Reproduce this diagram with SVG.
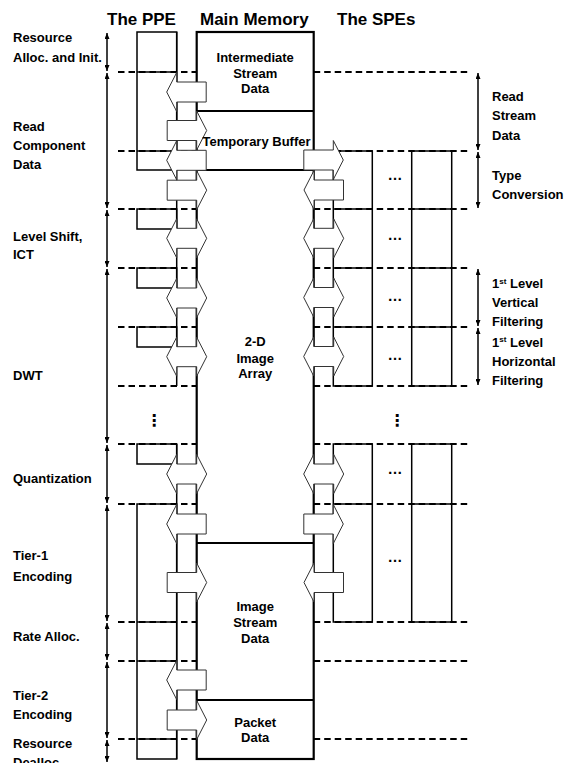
<svg xmlns="http://www.w3.org/2000/svg" width="565" height="763" viewBox="0 0 565 763">
<defs>
<style>
text{font-family:"Liberation Sans",Arial,sans-serif;font-weight:bold;font-size:13px;fill:#000}
.title{font-size:17px}
.mid{text-anchor:middle}
.dots{font-size:15px;text-anchor:middle}
.vdots{font-family:"DejaVu Sans",sans-serif;font-size:16px;text-anchor:middle}
.dash{stroke:#000;stroke-width:1.8;stroke-dasharray:6.5 4;fill:none}
.ln{stroke:#000;stroke-width:1.5;fill:none}
.mem{stroke:#000;stroke-width:2.2;fill:none}
.arr{fill:#fff;stroke:#333;stroke-width:1}
.va{stroke:#000;stroke-width:1.5;fill:none;marker-start:url(#ah);marker-end:url(#ah)}
</style>
<marker id="ah" viewBox="0 0 6 5" refX="6" refY="2.5" markerWidth="6" markerHeight="5" markerUnits="userSpaceOnUse" orient="auto-start-reverse">
<path d="M0,0 L6,2.5 L0,5 z" fill="#000"/>
</marker>
<polygon id="aL" class="arr" points="0,0 10,-19.5 10,-10 39.5,-10 39.5,10 10,10 10,19.5"/>
<polygon id="aR" class="arr" points="0,0 -10,-19.5 -10,-10 -39.5,-10 -39.5,10 -10,10 -10,19.5"/>
<polygon id="aD" class="arr" points="-20,0 -10,-19.5 -10,-10 10,-10 10,-19.5 20,0 10,19.5 10,10 -10,10 -10,19.5"/>
</defs>
<rect width="565" height="763" fill="#fff"/>

<g id="titles">
<text class="title" x="107" y="24.5">The PPE</text>
<text class="title" x="200" y="24.5">Main Memory</text>
<text class="title" x="337" y="24.5">The SPEs</text>
</g>

<g id="stage-lines">
<path class="dash" d="M118,72H196.7 M118,151H196.7 M118,209H196.7 M118,268H196.7 M118,327H196.7 M118,386H196.7 M118,444H196.7 M118,504H196.7 M118,622H196.7 M118,661H196.7 M118,739H196.7"/>
<path class="dash" d="M313.7,72H468 M313.7,151H468 M313.7,209H468 M313.7,268H468 M313.7,327H468 M313.7,386H468 M313.7,444H468 M313.7,504H468 M313.7,622H468 M313.7,661H468 M313.7,739H468"/>
</g>

<g id="ppe">
<rect class="ln" x="137" y="32" width="39.7" height="138"/>
<path class="ln" d="M137,72H176.7 M137,151H176.7"/>
<rect class="ln" x="137" y="209" width="39.7" height="20"/>
<rect class="ln" x="137" y="268" width="39.7" height="20"/>
<rect class="ln" x="137" y="327" width="39.7" height="20"/>
<rect class="ln" x="137" y="444" width="39.7" height="20"/>
<rect class="ln" x="137" y="504" width="39.7" height="255"/>
<path class="ln" d="M137,622H176.7 M137,661H176.7 M137,739H176.7"/>
<path class="ln" d="M176.7,32V386 M176.7,444V759"/>
</g>

<g id="main-memory">
<rect class="mem" x="196.7" y="32" width="117" height="727"/>
<path class="mem" d="M196.7,111H313.7 M196.7,170H313.7 M196.7,543H313.7 M196.7,700H313.7"/>
</g>

<g id="spes">
<rect class="ln" x="333.3" y="151" width="39" height="235"/>
<rect class="ln" x="333.3" y="444" width="39" height="178"/>
<path class="ln" d="M333.3,209H372.3 M333.3,268H372.3 M333.3,327H372.3 M333.3,504H372.3"/>
<rect class="ln" x="411.7" y="151" width="40" height="235"/>
<rect class="ln" x="411.7" y="444" width="40" height="178"/>
<path class="ln" d="M411.7,209H451.7 M411.7,268H451.7 M411.7,327H451.7 M411.7,504H451.7"/>
</g>

<g id="connectors">
<use href="#aL" x="166.7" y="92"/>
<use href="#aR" x="206.7" y="130.5"/>
<use href="#aL" x="166.7" y="160.3"/>
<use href="#aR" x="206.7" y="190.2"/>
<use href="#aD" x="186.7" y="238.3"/>
<use href="#aD" x="186.7" y="298"/>
<use href="#aD" x="186.7" y="356.7"/>
<use href="#aD" x="186.7" y="474"/>
<use href="#aL" x="166.7" y="524"/>
<use href="#aR" x="206.7" y="582.5"/>
<use href="#aL" x="166.7" y="680"/>
<use href="#aR" x="206.7" y="720"/>
<use href="#aR" x="343.3" y="160"/>
<use href="#aL" x="304" y="190"/>
<use href="#aD" x="323.7" y="238.3"/>
<use href="#aD" x="323.7" y="297.5"/>
<use href="#aD" x="323.7" y="356.5"/>
<use href="#aD" x="323.7" y="474"/>
<use href="#aR" x="343.3" y="524"/>
<use href="#aL" x="304" y="582.5"/>
</g>

<g id="phase-arrows">
<line class="va" x1="107" y1="33" x2="107" y2="71"/>
<line class="va" x1="107" y1="73" x2="107" y2="208"/>
<line class="va" x1="107" y1="210" x2="107" y2="267"/>
<line class="va" x1="107" y1="269" x2="107" y2="443"/>
<line class="va" x1="107" y1="445" x2="107" y2="503"/>
<line class="va" x1="107" y1="505" x2="107" y2="621"/>
<line class="va" x1="107" y1="623" x2="107" y2="660"/>
<line class="va" x1="107" y1="662" x2="107" y2="738"/>
<line class="va" x1="107" y1="740" x2="107" y2="762"/>
<line class="va" x1="478" y1="73" x2="478" y2="150"/>
<line class="va" x1="478" y1="152" x2="478" y2="208"/>
<line class="va" x1="478" y1="269" x2="478" y2="326"/>
<line class="va" x1="478" y1="328" x2="478" y2="385"/>
</g>

<g id="left-labels">
<text x="13" y="42">Resource</text>
<text x="13" y="62">Alloc. and Init.</text>
<text x="13" y="130.5">Read</text>
<text x="13" y="150">Component</text>
<text x="13" y="169">Data</text>
<text x="13" y="240.5">Level Shift,</text>
<text x="13" y="259">ICT</text>
<text x="13" y="380">DWT</text>
<text x="13" y="483">Quantization</text>
<text x="13" y="560">Tier-1</text>
<text x="13" y="581">Encoding</text>
<text x="13" y="641">Rate Alloc.</text>
<text x="13" y="699.5">Tier-2</text>
<text x="13" y="718.5">Encoding</text>
<text x="13" y="748">Resource</text>
<text x="13" y="767">Dealloc.</text>
</g>

<g id="right-labels">
<text x="492" y="100.5">Read</text>
<text x="492" y="120">Stream</text>
<text x="492" y="139.5">Data</text>
<text x="492" y="179.5">Type</text>
<text x="492" y="199">Conversion</text>
<text x="492" y="288">1<tspan font-size="8" dy="-4.5">st</tspan><tspan dy="4.5"> Level</tspan></text>
<text x="492" y="307">Vertical</text>
<text x="492" y="326">Filtering</text>
<text x="492" y="346.5">1<tspan font-size="8" dy="-4.5">st</tspan><tspan dy="4.5"> Level</tspan></text>
<text x="492" y="365.5">Horizontal</text>
<text x="492" y="384.5">Filtering</text>
</g>

<g id="memory-labels">
<text class="mid" x="255.2" y="62">Intermediate</text>
<text class="mid" x="255.2" y="77.5">Stream</text>
<text class="mid" x="255.2" y="93">Data</text>
<text class="mid" x="256.5" y="146">Temporary Buffer</text>
<text class="mid" x="255.2" y="346">2-D</text>
<text class="mid" x="255.2" y="362.5">Image</text>
<text class="mid" x="255.2" y="378">Array</text>
<text class="mid" x="255.2" y="611">Image</text>
<text class="mid" x="255.2" y="627">Stream</text>
<text class="mid" x="255.2" y="643">Data</text>
<text class="mid" x="255.2" y="727">Packet</text>
<text class="mid" x="255.2" y="742">Data</text>
</g>

<g id="ellipses">
<text class="dots" x="395" y="180">…</text>
<text class="dots" x="395" y="239.5">…</text>
<text class="dots" x="395" y="300.5">…</text>
<text class="dots" x="395" y="359.5">…</text>
<text class="dots" x="395" y="473.5">…</text>
<text class="dots" x="395" y="562">…</text>
<text class="vdots" x="154" y="426">⋮</text>
<text class="vdots" x="397" y="426">⋮</text>
</g>
</svg>
